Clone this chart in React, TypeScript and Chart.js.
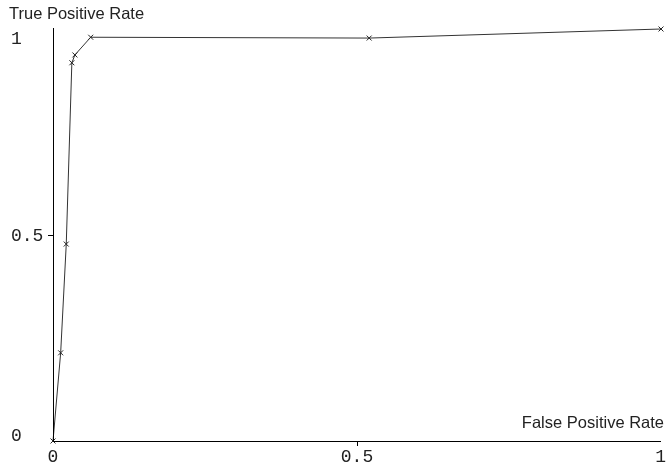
import React, { useEffect, useRef } from "react";
import { Chart, registerables } from "chart.js";

Chart.register(...registerables);

const fpr = [0, 0.0126, 0.0218, 0.031, 0.036, 0.062, 0.52, 1];
const tpr = [0, 0.214, 0.478, 0.918, 0.937, 0.98, 0.978, 1];
const xTicks = [0, 0.5, 1];
const yTicks = [0, 0.5, 1];
const xTickLabels = ["0", "0.5", "1"];
const yTickLabels = ["0", "0.5", "1"];
const xTitle = "False Positive Rate";
const yTitle = "True Positive Rate";

const axesPlugin = {
  id: "wekaAxes",
  afterDraw(chart: any) {
    const { ctx, chartArea } = chart;
    const xs = chart.scales.x;
    const ys = chart.scales.y;
    const { left, right, top, bottom } = chartArea;
    ctx.save();
    ctx.strokeStyle = "#000";
    ctx.lineWidth = 1;
    ctx.beginPath();
    ctx.moveTo(Math.round(left) + 0.5, top - 1);
    ctx.lineTo(Math.round(left) + 0.5, Math.round(bottom) + 0.5);
    ctx.lineTo(right, Math.round(bottom) + 0.5);
    ctx.stroke();

    // ticks
    ctx.beginPath();
    xTicks.forEach((v) => {
      if (v === 0 || v === 1) return;
      const px = Math.round(xs.getPixelForValue(v)) + 0.5;
      ctx.moveTo(px, bottom);
      ctx.lineTo(px, bottom + 5);
    });
    yTicks.forEach((v) => {
      if (v === 0 || v === 1) return;
      const py = Math.round(ys.getPixelForValue(v)) + 0.5;
      ctx.moveTo(left - 5, py);
      ctx.lineTo(left, py);
    });
    ctx.stroke();

    ctx.fillStyle = "#222";
    ctx.font = "18px 'Liberation Mono', 'DejaVu Sans Mono', monospace";
    ctx.textBaseline = "alphabetic";
    ctx.textAlign = "left";
    yTicks.forEach((v, i) => {
      const py = ys.getPixelForValue(v);
      const base = Math.min(Math.max(py + 6, top + 15), bottom);
      ctx.fillText(yTickLabels[i], 11, base);
    });
    xTicks.forEach((v, i) => {
      const px = xs.getPixelForValue(v);
      const w = ctx.measureText(xTickLabels[i]).width;
      const cx = Math.min(px, 666 - w / 2);
      ctx.textAlign = "center";
      ctx.fillText(xTickLabels[i], cx, 462);
    });

    ctx.font = "16.5px 'Liberation Sans', Arial, sans-serif";
    ctx.fillStyle = "#222";
    ctx.textAlign = "left";
    ctx.fillText(yTitle, 9, 19);
    ctx.textAlign = "right";
    ctx.fillText(xTitle, 664, 428);
    ctx.restore();
  },
};

export default function App() {
  const ref = useRef<HTMLCanvasElement | null>(null);
  useEffect(() => {
    document.body.style.margin = "0";
    document.body.style.background = "#fff";
    const canvas = ref.current;
    if (!canvas) return;
    const chart = new Chart(canvas, {
      type: "scatter",
      data: {
        datasets: [
          {
            data: fpr.map((x, i) => ({ x, y: tpr[i] })),
            showLine: true,
            clip: false,
            borderColor: "#333",
            borderWidth: 1,
            pointStyle: "crossRot",
            pointRadius: 3.5,
            pointBorderColor: "#222",
            pointBorderWidth: 1,
            pointBackgroundColor: "#222",
            tension: 0,
          },
        ],
      },
      options: {
        responsive: false,
        animation: false,
        devicePixelRatio: 1,
        layout: { padding: { left: 53, right: 3, top: 29, bottom: 26 } },
        plugins: { legend: { display: false }, tooltip: { enabled: false } },
        scales: {
          x: { type: "linear", min: 0, max: 1, display: false },
          y: { type: "linear", min: 0, max: 1, display: false },
        },
      },
      plugins: [axesPlugin],
    });
    return () => chart.destroy();
  }, []);
  return (
    <canvas
      ref={ref}
      width={666}
      height={467}
      style={{ display: "block", width: 666, height: 467 }}
    />
  );
}
